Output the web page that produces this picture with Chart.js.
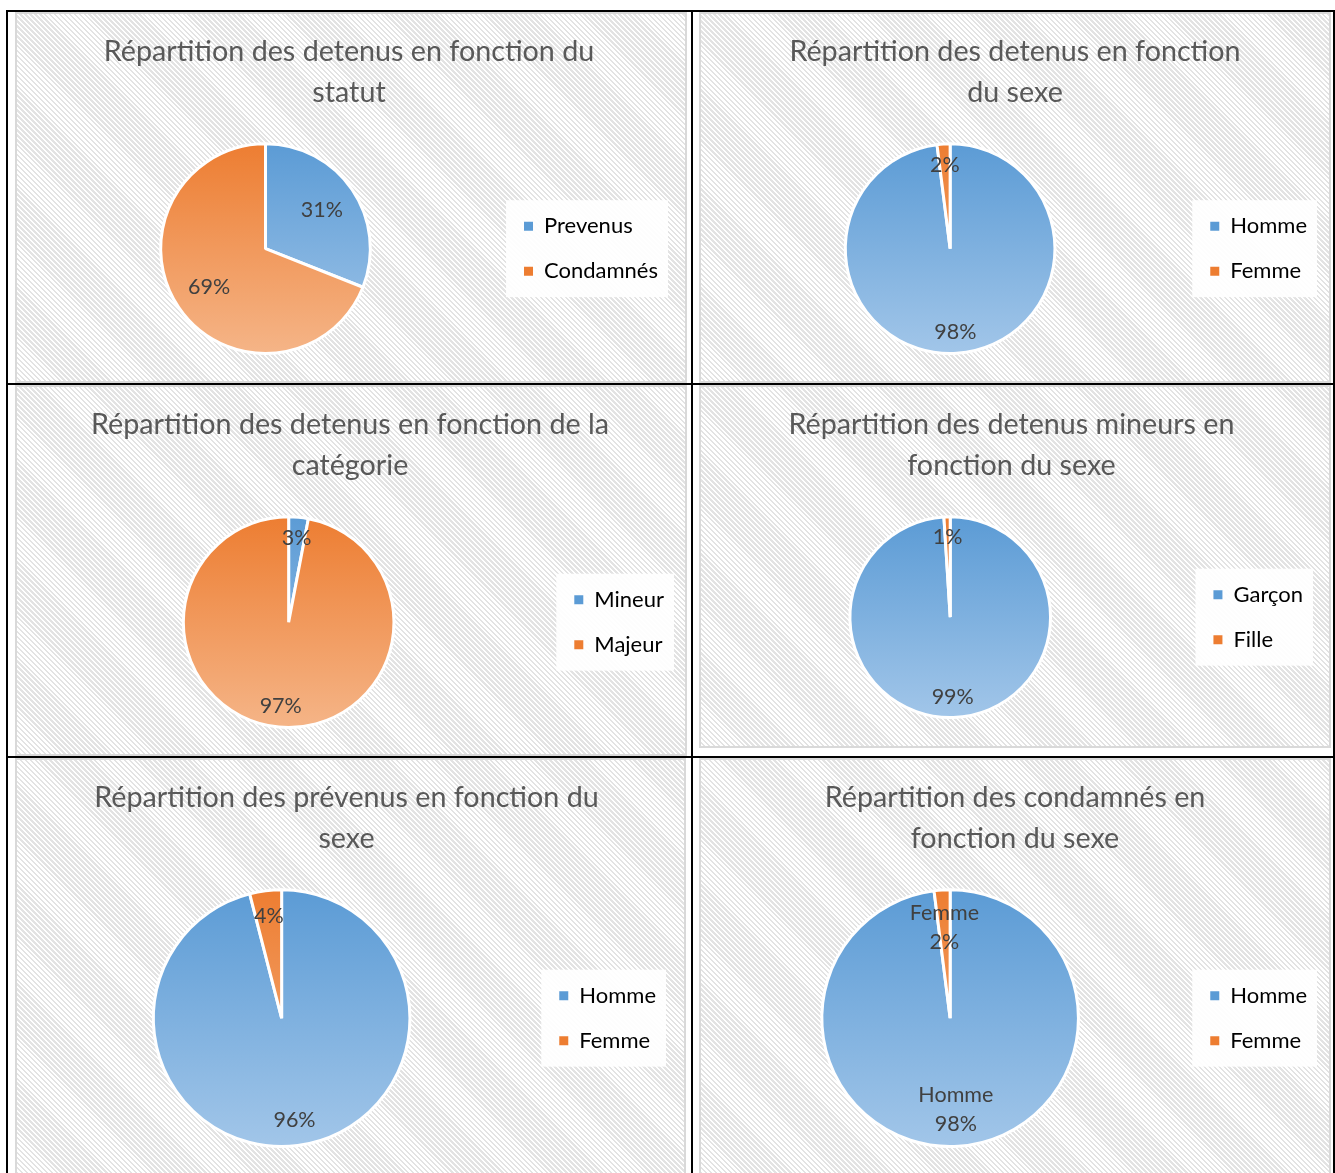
<!DOCTYPE html>
<html lang="fr">
<head>
<meta charset="utf-8">
<script src="https://cdn.jsdelivr.net/npm/chart.js@4.4.1/dist/chart.umd.min.js"></script>
<style>
  html, body { margin: 0; padding: 0; background: #fff; }
  body { width: 1335px; height: 1173px; position: relative; overflow: hidden; }
  .rule { position: absolute; background: #000; }
  .box {
    position: absolute; box-sizing: border-box; border: 2px solid #d9d9d9;
    background: repeating-linear-gradient(45deg, #ffffff 0 1.7px, #e3e3e3 1.7px 3.5px);
  }
  .box canvas { display: block; }
</style>
</head>
<body>
<!-- table rules -->
<div class="rule" style="left:6px;top:10px;width:1329px;height:2px"></div>
<div class="rule" style="left:6px;top:383px;width:1329px;height:2px"></div>
<div class="rule" style="left:6px;top:756px;width:1329px;height:2px"></div>
<div class="rule" style="left:6px;top:10px;width:2px;height:1163px"></div>
<div class="rule" style="left:691px;top:10px;width:2px;height:1163px"></div>
<div class="rule" style="left:1333px;top:10px;width:2px;height:1163px"></div>

<div class="box" style="left:15px;top:12px;width:672px;height:371px"><canvas id="c1"></canvas></div>
<div class="box" style="left:699px;top:12px;width:632px;height:371px"><canvas id="c2"></canvas></div>
<div class="box" style="left:15px;top:385px;width:672px;height:371px"><canvas id="c3"></canvas></div>
<div class="box" style="left:699px;top:385px;width:632px;height:363px"><canvas id="c4"></canvas></div>
<div class="box" style="left:15px;top:758px;width:671px;height:420px"><canvas id="c5"></canvas></div>
<div class="box" style="left:699px;top:758px;width:632px;height:420px"><canvas id="c6"></canvas></div>

<script>
// statut
const statutLabels = ['Prevenus', 'Condamnés'];
const statutValues = [31, 69];
// sexe (all detainees)
const sexeLabels = ['Homme', 'Femme'];
const sexeValues = [98, 2];
// catégorie
const categorieLabels = ['Mineur', 'Majeur'];
const categorieValues = [3, 97];
// minors by sex
const mineursLabels = ['Garçon', 'Fille'];
const mineursValues = [99, 1];
// prévenus by sex
const prevenusLabels = ['Homme', 'Femme'];
const prevenusValues = [96, 4];
// condamnés by sex
const condamnesLabels = ['Homme', 'Femme'];
const condamnesValues = [98, 2];

const FONT = 'Lato';
const TEXT = '#595959';
const LABEL = '#404040';

// [top, bottom] of the vertical fill gradient
const BLUE = ['#5b9bd5', '#a2c6e9'];
const ORANGE = ['#ed7d31', '#f5b588'];
const palette = [BLUE, ORANGE];

function sliceFill(ctx) {
  const pair = palette[ctx.dataIndex % 2];
  const area = ctx.chart.chartArea;
  if (!area) return pair[0];
  const cy = (area.top + area.bottom) / 2;
  const r = Math.min(area.width, area.height) / 2;
  const g = ctx.chart.ctx.createLinearGradient(0, cy - r, 0, cy + r);
  g.addColorStop(0, pair[0]);
  g.addColorStop(1, pair[1]);
  return g;
}

// white panel behind the legend entries
const legendPanel = {
  id: 'legendPanel',
  beforeDraw(chart) {
    const l = chart.legend;
    if (!l || !l.legendHitBoxes || !l.legendHitBoxes.length) return;
    const boxes = l.legendHitBoxes;
    const left = Math.min(...boxes.map(b => b.left));
    const right = Math.max(...boxes.map(b => b.left + b.width));
    const top = Math.min(...boxes.map(b => b.top));
    const bottom = Math.max(...boxes.map(b => b.top + b.height));
    const c = chart.ctx;
    c.save();
    c.fillStyle = 'rgba(255,255,255,0.9)';
    c.fillRect(left - 18, top - 15, right - left + 28, bottom - top + 30);
    c.restore();
  }
};

// percentage labels inside the slices
const pctLabels = {
  id: 'pctLabels',
  afterDatasetsDraw(chart, args, opts) {
    const meta = chart.getDatasetMeta(0);
    const data = chart.data.datasets[0].data;
    const total = data.reduce((a, b) => a + b, 0);
    const c = chart.ctx;
    c.save();
    c.font = '21.5px ' + FONT;
    c.fillStyle = LABEL;
    c.textAlign = 'center';
    c.textBaseline = 'middle';
    meta.data.forEach((arc, i) => {
      const p = arc.getProps(['x', 'y', 'startAngle', 'endAngle', 'outerRadius']);
      const mid = (p.startAngle + p.endAngle) / 2;
      const share = data[i] / total;
      const k = opts.radius || (share < 0.1 || share > 0.9 ? 0.8 : 0.65);
      const x = p.x + Math.cos(mid) * p.outerRadius * k;
      const y = p.y + Math.sin(mid) * p.outerRadius * k;
      const pct = Math.round(share * 100) + '%';
      const lines = opts.showCategory ? [chart.data.labels[i], pct] : [pct];
      lines.forEach((t, j) => c.fillText(t, x, y + (j - (lines.length - 1) / 2) * 29));
    });
    c.restore();
  }
};

function pie(id, title, labels, values, pad, labelOpts) {
  return new Chart(document.getElementById(id), {
    type: 'pie',
    data: {
      labels: labels,
      datasets: [{
        data: values,
        backgroundColor: sliceFill,
        borderColor: '#ffffff',
        borderWidth: 3
      }]
    },
    plugins: [legendPanel, pctLabels],
    options: {
      responsive: true,
      maintainAspectRatio: false,
      animation: false,
      layout: { padding: { left: pad.left, right: pad.right, top: 0, bottom: pad.bottom } },
      plugins: {
        title: {
          display: true,
          text: title,
          color: TEXT,
          font: { family: FONT, size: 28.7, weight: 'normal', lineHeight: 1.4 },
          padding: { top: 18, bottom: 30 }
        },
        legend: {
          position: 'right',
          fullSize: false,
          labels: {
            color: TEXT,
            font: { family: FONT, size: 22 },
            boxWidth: 9,
            boxHeight: 9,
            padding: 23,
            generateLabels(chart) {
              return chart.data.labels.map((text, i) => ({
                text: text,
                fillStyle: palette[i][0],
                strokeStyle: palette[i][0],
                lineWidth: 0,
                index: i
              }));
            }
          }
        },
        tooltip: { enabled: false },
        pctLabels: labelOpts || {}
      }
    }
  });
}

pie('c1', ['Répartition des detenus en fonction du', 'statut'], statutLabels, statutValues,
    { left: 13, right: 17, bottom: 26 });
pie('c2', ['Répartition des detenus en fonction', 'du sexe'], sexeLabels, sexeValues,
    { left: 12, right: 12, bottom: 26 });
pie('c3', ['Répartition des detenus en fonction de la', 'catégorie'], categorieLabels, categorieValues,
    { left: 9, right: 11, bottom: 25 });
pie('c4', ['Répartition des detenus mineurs en', 'fonction du sexe'], mineursLabels, mineursValues,
    { left: 9, right: 16, bottom: 27 });
pie('c5', ['Répartition des prévenus en fonction du', 'sexe'], prevenusLabels, prevenusValues,
    { left: 10, right: 18, bottom: 28 });
pie('c6', ['Répartition des condamnés en', 'fonction du sexe'], condamnesLabels, condamnesValues,
    { left: 12, right: 12, bottom: 28 }, { radius: 0.71, showCategory: true });
</script>
</body>
</html>
